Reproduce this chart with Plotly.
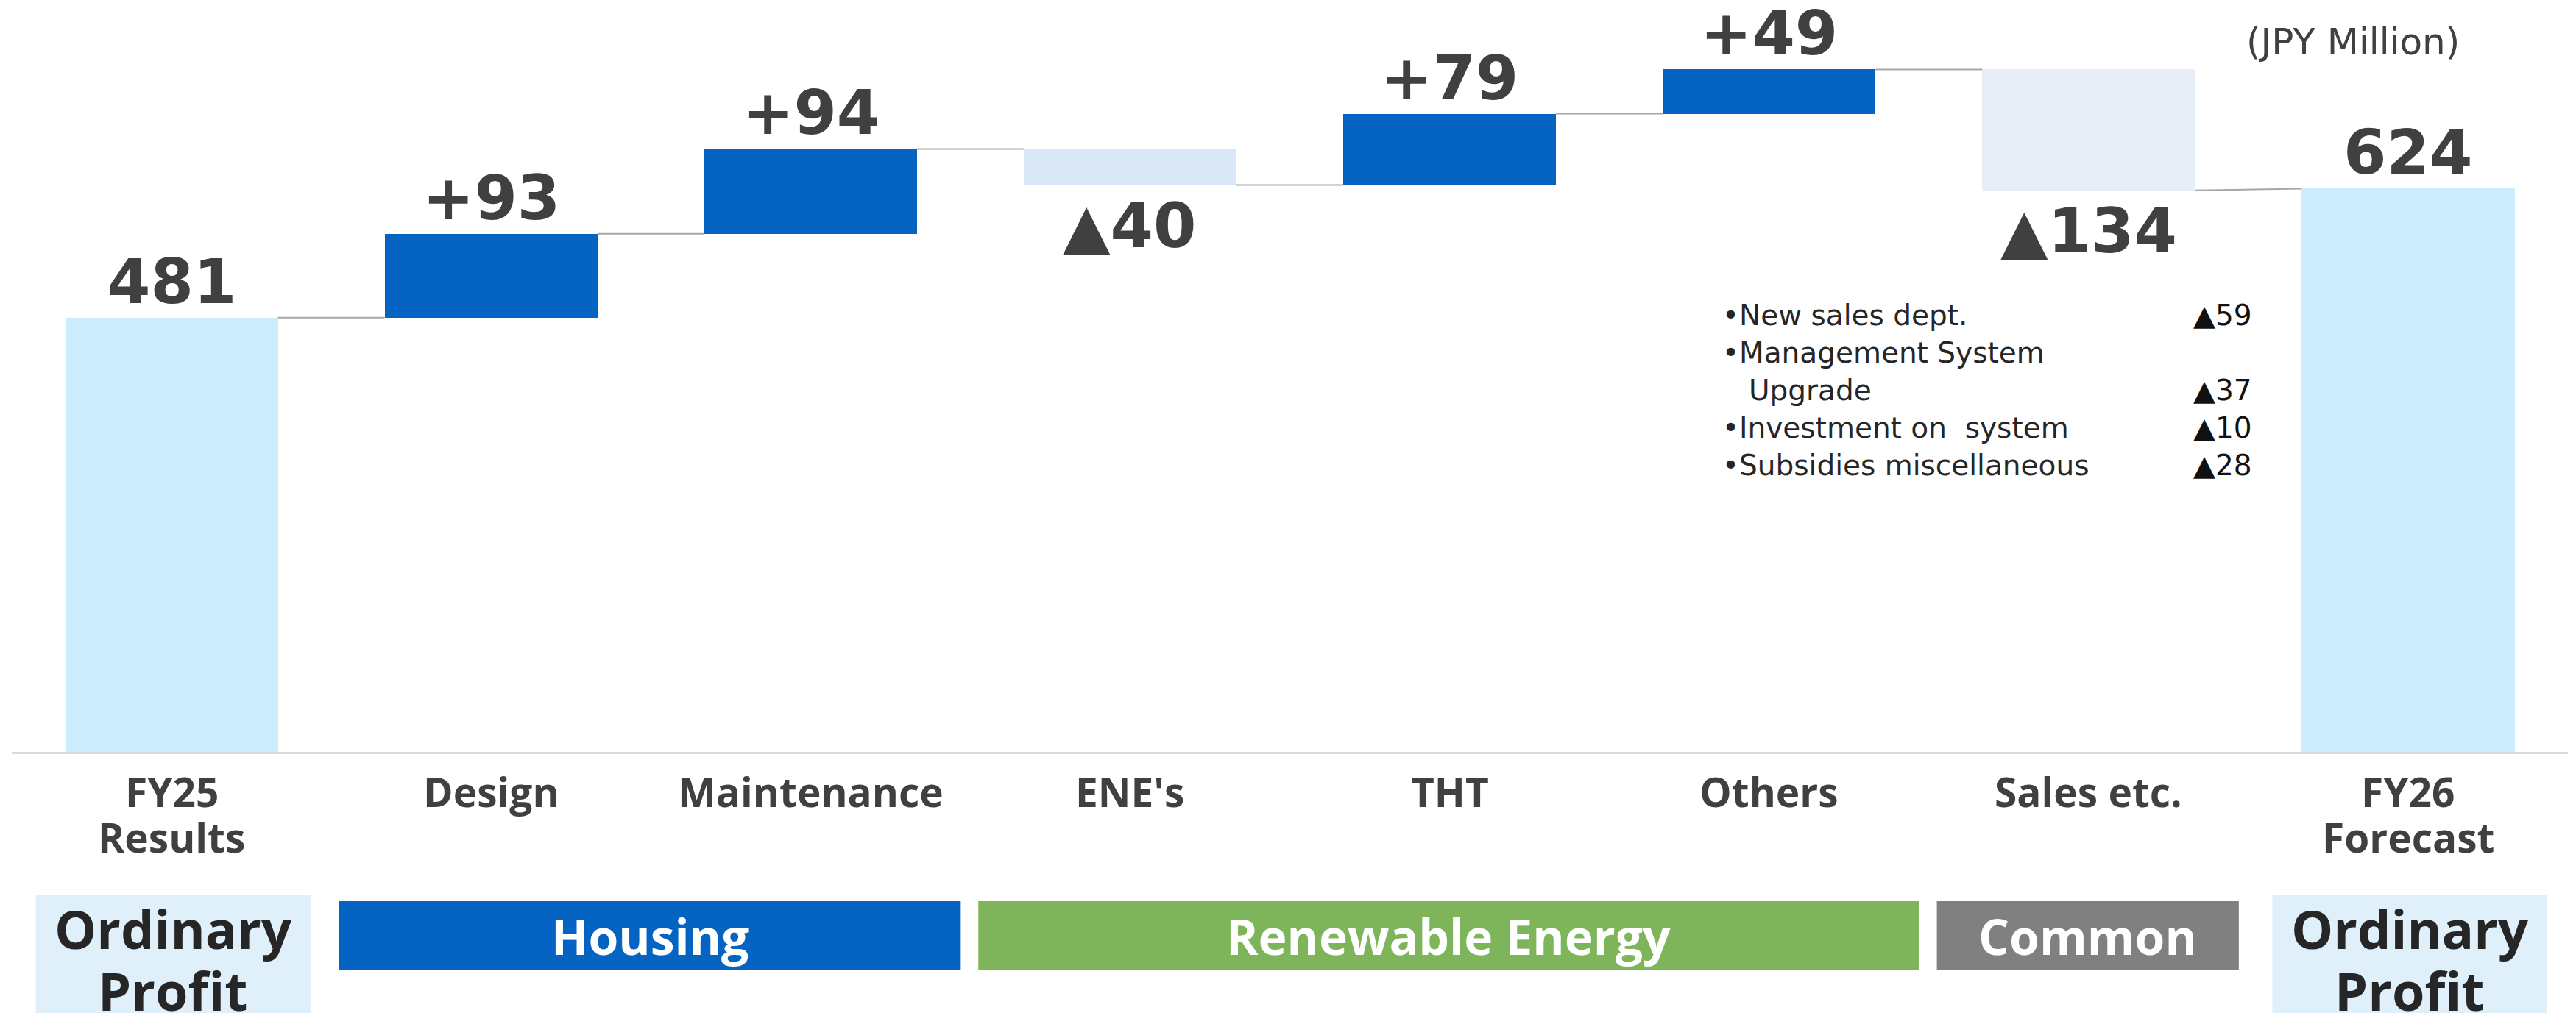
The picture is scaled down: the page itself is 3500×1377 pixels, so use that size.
import plotly.graph_objects as go

# ---------------- data ----------------
categories = ["FY25<br>Results", "Design", "Maintenance", "ENE's", "THT",
              "Others", "Sales etc.", "FY26<br>Forecast"]
start_value = 481
changes = [93, 94, -40, 79, 49, -134]
end_value = 624

segment_names = ["Ordinary<br>Profit", "Housing", "Renewable Energy", "Common", "Ordinary<br>Profit"]
segment_first = [0, 1, 3, 6, 7]
segment_last = [0, 2, 5, 6, 7]

note_items = ["New sales dept.", "Management System<br>Upgrade",
              "Investment on  system", "Subsidies miscellaneous"]
note_values = [-59, -37, -10, -28]
unit_label = "(JPY Million)"

# ---------------- styles ----------------
W, H = 3500, 1377
M_L, M_R, M_T, M_B = 16, 11, 0, 355
PLOT_H = H - M_T - M_B
PLOT_W = W - M_L - M_R
BAR_W = 0.666
Y_MAX = 833

bar_colors = ["#CCEEFC", "#0563C1", "#0563C1", "#D9E7F6", "#0563C1",
              "#0563C1", "#E7EEF8", "#CCEEFC"]
segment_styles = [
    dict(fill="#DFF0FB", text="#262626", tall=True),
    dict(fill="#0563C1", text="#FFFFFF", tall=False),
    dict(fill="#7EB55A", text="#FFFFFF", tall=False),
    dict(fill="#808080", text="#FFFFFF", tall=False),
    dict(fill="#DFF0FB", text="#262626", tall=True),
]
VALUE_FONT = "DejaVu Sans"
LABEL_FONT = "Open Sans"
TEXT_DARK = "#404040"


def py(px):
    """pixel row -> paper y"""
    return (M_T + PLOT_H - px) / PLOT_H


def px_x(px):
    """pixel column -> paper x"""
    return (px - M_L) / PLOT_W


def marker_text(v):
    return f"+{v}" if v > 0 else f"\u25b2{-v}"


# ---------------- waterfall geometry from data ----------------
n = len(categories)
bases = [0]
heights = [start_value]
after = [start_value]
level = start_value
for c in changes:
    bases.append(level)
    heights.append(c)
    level += c
    after.append(level)
bases.append(0)
heights.append(end_value)

xs = list(range(n))

fig = go.Figure()
fig.add_trace(go.Bar(
    x=xs, y=heights, base=bases, width=BAR_W,
    marker=dict(color=bar_colors, line=dict(width=0)),
    hoverinfo="skip", showlegend=False,
))

# connector lines between neighbouring bars
cx, cy = [], []
for i in range(n - 1):
    left_level = after[i]
    right_level = bases[i + 1] if i + 1 < n - 1 else end_value
    cx += [i + BAR_W / 2, i + 1 - BAR_W / 2, None]
    cy += [left_level, right_level, None]
fig.add_trace(go.Scatter(
    x=cx, y=cy, mode="lines", line=dict(color="#A6A6A6", width=2),
    hoverinfo="skip", showlegend=False,
))

annotations = []

# value labels
value_font = dict(family=VALUE_FONT, size=84, color=TEXT_DARK, weight="bold")
labels = [(0, start_value, str(start_value), True)]
for i, c in enumerate(changes, start=1):
    labels.append((i, bases[i] + c, marker_text(c), c > 0))
labels.append((n - 1, end_value, str(end_value), True))
for i, yv, txt, above in labels:
    annotations.append(dict(
        x=i, y=yv, xref="x", yref="y", text=txt, showarrow=False,
        xanchor="center", yanchor="middle",
        yshift=49 if above else -55, font=value_font,
    ))

# category labels under the axis
cat_font = dict(family=LABEL_FONT, size=55, color=TEXT_DARK, weight="bold")
for i, cat in enumerate(categories):
    for k, line in enumerate(cat.split("<br>")):
        annotations.append(dict(
            x=i, y=py(1075 + 63 * k), xref="x", yref="paper", text=line,
            showarrow=False, xanchor="center", yanchor="middle", font=cat_font,
        ))

# segment boxes
shapes = []
for name, a, b, st in zip(segment_names, segment_first, segment_last, segment_styles):
    if st["tall"]:
        x0, x1 = a - 0.5 + 0.075, b + 0.5 - 0.065
        y0, y1 = 1217, 1380
        size, lines_y = 72, [1262, 1346]
    else:
        x0, x1 = a - 0.5 + 0.025, b + 0.5 - 0.03
        y0, y1 = 1225, 1318
        size, lines_y = 66, [1272]
    shapes.append(dict(
        type="rect", xref="x", yref="paper", x0=x0, x1=x1,
        y0=py(y1), y1=py(y0), fillcolor=st["fill"], line=dict(width=0),
        layer="above",
    ))
    for line, ly in zip(name.split("<br>"), lines_y):
        annotations.append(dict(
            x=(x0 + x1) / 2, y=py(ly), xref="x", yref="paper", text=line,
            showarrow=False, xanchor="center", yanchor="middle",
            font=dict(family=LABEL_FONT, size=size, color=st["text"], weight="bold"),
        ))

# unit label
annotations.append(dict(
    x=px_x(3344), y=py(57), xref="paper", yref="paper", text=unit_label,
    showarrow=False, xanchor="right", yanchor="middle",
    font=dict(family=VALUE_FONT, size=50, color=TEXT_DARK),
))

# breakdown notes for Sales etc.
note_font = dict(family=VALUE_FONT, size=39, color="#262626")
row = 0
for item, val in zip(note_items, note_values):
    parts = item.split("<br>")
    for k, part in enumerate(parts):
        ly = 428 + 51 * row
        annotations.append(dict(
            x=px_x(2338 if k == 0 else 2374), y=py(ly), xref="paper", yref="paper",
            text=("\u2022" + part) if k == 0 else part,
            showarrow=False, xanchor="left", yanchor="middle", font=note_font,
        ))
        if k == len(parts) - 1:
            annotations.append(dict(
                x=px_x(3062), y=py(ly), xref="paper", yref="paper",
                text=marker_text(val), showarrow=False, xanchor="right",
                yanchor="middle", font=dict(family=VALUE_FONT, size=39, color="#111111"),
            ))
        row += 1

fig.update_layout(
    width=W, height=H,
    margin=dict(l=M_L, r=M_R, t=M_T, b=M_B, pad=0),
    paper_bgcolor="white", plot_bgcolor="white",
    showlegend=False, bargap=0,
    xaxis=dict(range=[-0.5, n - 0.5], showgrid=False, zeroline=False,
               showticklabels=False, ticks="", showline=True,
               linecolor="#D9D9D9", linewidth=3, fixedrange=True),
    yaxis=dict(range=[0, Y_MAX], showgrid=False, zeroline=False,
               showticklabels=False, ticks="", showline=False, fixedrange=True),
    annotations=annotations, shapes=shapes,
)

fig.write_html("out.html")
